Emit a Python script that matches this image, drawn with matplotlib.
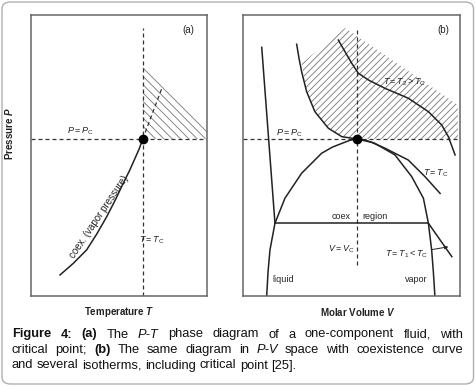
"""Schematic phase diagram of a one-component fluid: (a) P-T plane, (b) P-V plane."""

import matplotlib
matplotlib.use("Agg")
import matplotlib.pyplot as plt
from matplotlib.patches import Polygon, FancyBboxPatch

W, H = 476, 386

plt.rcParams.update({
    "font.family": ["Liberation Sans", "DejaVu Sans"],
    "mathtext.fontset": "custom",
    "mathtext.rm": "Liberation Sans",
    "mathtext.it": "Liberation Sans:italic",
    "mathtext.bf": "Liberation Sans:bold",
    "mathtext.bfit": "Liberation Sans:italic:bold",
    "hatch.linewidth": 0.6,
})

# ---- panel (a): P-T plane, reduced units (0..1 over the frame) ----
T_C, P_C = 0.635, 0.559
COEX_T = [0.165, 0.240, 0.316, 0.375, 0.430, 0.480, 0.524, 0.562, 0.591, 0.615, 0.635]
COEX_P = [0.075, 0.116, 0.164, 0.222, 0.282, 0.343, 0.401, 0.449, 0.490, 0.524, 0.559]
EXT_T = [0.635, 0.744]          # dashed continuation above the critical point
EXT_P = [0.559, 0.740]
SUPER_A_T = [0.635, 0.635, 1.0, 1.0]   # supercritical (hatched) region
SUPER_A_P = [0.559, 0.836, 0.600, 0.559]

# ---- panel (b): P-V plane ----
V_C = 0.521
DOME_V = [0.107, 0.113, 0.122, 0.145, 0.191, 0.268, 0.360, 0.410, 0.453, 0.490, 0.521,
          0.560, 0.606, 0.698, 0.775, 0.829, 0.852, 0.867, 0.875, 0.882]
DOME_P = [0.000, 0.085, 0.164, 0.259, 0.348, 0.437, 0.508, 0.530, 0.543, 0.554, 0.559,
          0.555, 0.543, 0.502, 0.425, 0.348, 0.259, 0.164, 0.085, 0.000]
T1_LEFT_V = [0.084, 0.145]
T1_LEFT_P = [0.885, 0.259]
T1_TIE_V = [0.145, 0.852]
T1_TIE_P = [0.259, 0.259]
T1_RIGHT_V = [0.852, 0.960]
T1_RIGHT_P = [0.259, 0.140]
TC_V = [0.245, 0.256, 0.268, 0.291, 0.329, 0.391, 0.453, 0.521, 0.590, 0.652, 0.759, 0.836, 0.906]
TC_P = [0.896, 0.845, 0.798, 0.727, 0.656, 0.597, 0.567, 0.559, 0.547, 0.526, 0.484, 0.425, 0.365]
T2_V = [0.437, 0.468, 0.499, 0.529, 0.575, 0.652, 0.759, 0.852, 0.913, 0.944, 0.975]
T2_P = [0.911, 0.869, 0.828, 0.793, 0.769, 0.739, 0.704, 0.656, 0.609, 0.567, 0.502]
SUPER_B_V = [0.521, 0.453, 0.391, 0.329, 0.291, 0.268, 0.468, 0.988, 0.988]
SUPER_B_P = [0.559, 0.567, 0.597, 0.656, 0.727, 0.828, 0.954, 0.680, 0.559]

CAPTION = [
    [("Figure", "b"), ("4:", "b"), ("(a)", "b"), ("The", "n"), ("P-T", "i"), ("phase", "n"),
     ("diagram", "n"), ("of", "n"), ("a", "n"), ("one-component", "n"), ("fluid,", "n"),
     ("with", "n")],
    [("critical", "n"), ("point;", "n"), ("(b)", "b"), ("The", "n"), ("same", "n"),
     ("diagram", "n"), ("in", "n"), ("P-V", "i"), ("space", "n"), ("with", "n"),
     ("coexistence", "n"), ("curve", "n")],
    [("and", "n"), ("several", "n"), ("isotherms,", "n"), ("including", "n"),
     ("critical", "n"), ("point", "n"), ("[25].", "n")],
]

INK = "#222222"
DASH = dict(color="#333333", lw=0.9, ls=(0, (3.2, 2.4)))
LABEL = dict(fontsize=6.5, color=INK)

fig = plt.figure(figsize=(W / 100, H / 100), dpi=100)
fig.patch.set_facecolor("white")


def frame(rect):
    ax = fig.add_axes(rect)
    ax.set_xlim(0, 1)
    ax.set_ylim(0, 1)
    ax.set_xticks([])
    ax.set_yticks([])
    for s in ax.spines.values():
        s.set_color("#666666")
        s.set_linewidth(1.1)
    return ax


ax_a = frame([31 / W, 1 - 296 / H, 176 / W, 281 / H])
ax_b = frame([243.5 / W, 1 - 296 / H, 217 / W, 281 / H])

# (a)
ax_a.add_patch(Polygon(list(zip(SUPER_A_T, SUPER_A_P)), closed=True, facecolor="none",
                       edgecolor="#777777", lw=0, hatch="\\\\\\\\"))
ax_a.axhline(P_C, **DASH)
ax_a.plot([T_C, T_C], [0, 0.955], **DASH)
ax_a.plot(EXT_T, EXT_P, **DASH)
ax_a.plot(COEX_T, COEX_P, color=INK, lw=1.1)
ax_a.plot([T_C], [P_C], "o", ms=6, color="black", zorder=5)
ax_a.text(0.278, 0.585, r"$P=P_\mathrm{C}$", ha="center", va="center", **LABEL)
ax_a.text(0.686, 0.199, r"$T=T_\mathrm{C}$", ha="center", va="center", **LABEL)
ax_a.text(0.385, 0.282, "coex. (vapor pressure)", rotation=56, ha="center", va="center",
          fontsize=7, color=INK)
ax_a.text(0.894, 0.947, "(a)", ha="center", va="center", fontsize=7, color=INK)
ax_a.text(0.5, -0.057, r"Temperature $\mathbfit{T}$", ha="center", va="center",
          fontsize=7, fontweight="bold", color=INK)
ax_a.text(-0.125, 0.58, r"Pressure $\mathbfit{P}$", ha="center", va="center", rotation=90,
          fontsize=7, fontweight="bold", color=INK)

# (b)
ax_b.add_patch(Polygon(list(zip(SUPER_B_V, SUPER_B_P)), closed=True, facecolor="none",
                       edgecolor="#777777", lw=0, hatch="/////"))
ax_b.axhline(P_C, **DASH)
ax_b.plot([V_C, V_C], [0.11, 0.955], **DASH)
ax_b.plot(DOME_V, DOME_P, color=INK, lw=1.1)
for v, p in ((T1_LEFT_V, T1_LEFT_P), (T1_TIE_V, T1_TIE_P), (T1_RIGHT_V, T1_RIGHT_P),
             (TC_V, TC_P), (T2_V, T2_P)):
    ax_b.plot(v, p, color=INK, lw=1.1)
ax_b.plot([V_C], [P_C], "o", ms=6, color="black", zorder=5)
ax_b.text(0.213, 0.580, r"$P=P_\mathrm{C}$", ha="center", va="center", **LABEL)
ax_b.text(0.740, 0.760, r"$T=T_2>T_\mathrm{C}$", ha="center", va="center", **LABEL)
ax_b.text(0.886, 0.437, r"$T=T_\mathrm{C}$", ha="center", va="center", **LABEL)
ax_b.text(0.449, 0.282, "coex", ha="center", va="center", **LABEL)
ax_b.text(0.606, 0.282, "region", ha="center", va="center", **LABEL)
ax_b.text(0.510, 0.166, r"$V=V_\mathrm{C}$", ha="right", va="center", **LABEL)
ax_b.text(0.185, 0.059, "liquid", ha="center", va="center", **LABEL)
ax_b.text(0.798, 0.059, "vapor", ha="center", va="center", **LABEL)
ax_b.annotate(r"$T=T_1<T_\mathrm{C}$", xy=(0.944, 0.175), xytext=(0.850, 0.150),
              ha="right", va="center", **LABEL,
              arrowprops=dict(arrowstyle="-|>", color=INK, lw=0.7, mutation_scale=5,
                              shrinkA=1, shrinkB=0))
ax_b.text(0.921, 0.947, "(b)", ha="center", va="center", fontsize=7, color=INK)
ax_b.text(0.528, -0.057, r"Molar Volume $\mathbfit{V}$", ha="center", va="center",
          fontsize=7, fontweight="bold", color=INK)

# caption, justified like the journal layout
renderer = fig.canvas.get_renderer()
X0, X1 = 12, 463
for i, (tokens, base) in enumerate(zip(CAPTION, (337.5, 353.0, 368.5))):
    arts = []
    for word, style in tokens:
        kw = dict(fontsize=9.3, color="#111111", va="baseline", ha="left")
        if style == "b":
            kw["fontweight"] = "bold"
        elif style == "i":
            kw["fontstyle"] = "italic"
        arts.append(fig.text(0, 1 - base / H, word, **kw))
    widths = [a.get_window_extent(renderer).width for a in arts]
    if i < len(CAPTION) - 1:
        gap = (X1 - X0 - sum(widths)) / (len(arts) - 1)
    else:
        gap = 3.6
    x = X0
    for a, w in zip(arts, widths):
        a.set_x(x / W)
        x += w + gap

# rounded outer border
fig.patches.append(FancyBboxPatch((2 / W, 2 / H), 471.5 / W, 382 / H,
                                  boxstyle="round,pad=0,rounding_size=0.018",
                                  transform=fig.transFigure, facecolor="none",
                                  edgecolor="#b0b0b0", lw=1.0))

fig.savefig("out.png", dpi=100)
